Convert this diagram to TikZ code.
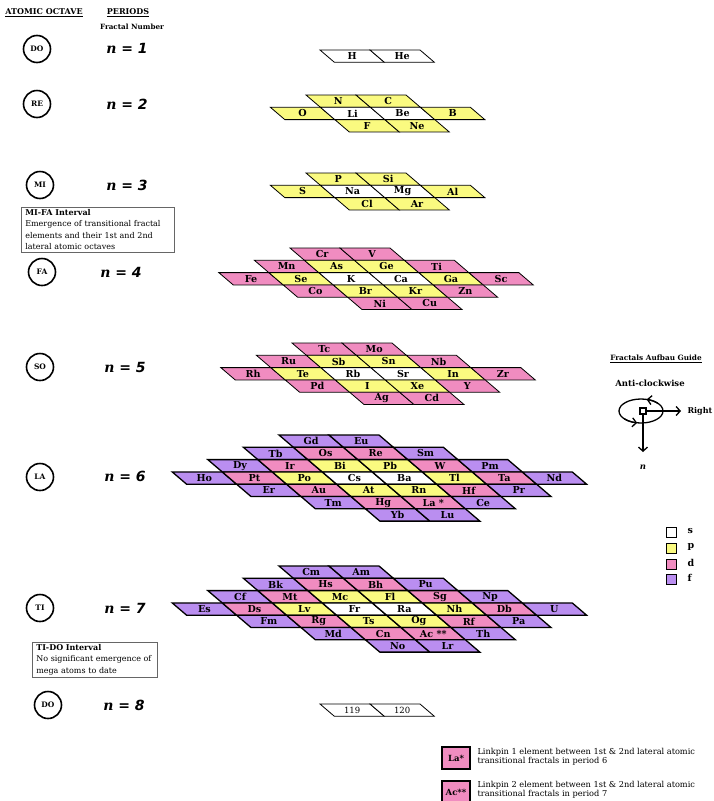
\documentclass[tikz,border=0pt]{standalone}
\usepackage{fontspec}
\setmainfont{DejaVu Serif}
\newfontfamily\nsans{DejaVu Sans}
\usetikzlibrary{arrows.meta}
\definecolor{scol}{RGB}{255,255,255}
\definecolor{pcol}{RGB}{250,250,128}
\definecolor{dcol}{RGB}{240,140,192}
\definecolor{fcol}{RGB}{186,142,240}
\newcommand{\fcell}[5]{%
  \filldraw[#4] (#2,#3) -- ++(1,0) -- ++(0,1) -- ++(-1,0) -- cycle;
  \node (#1) at (#2+0.5,#3+0.5) {#5};}

\begin{document}
\begin{tikzpicture}[x=1pt,y=-1pt,
    sblk/.style={fill=scol},pblk/.style={fill=pcol},
    dblk/.style={fill=dcol},fblk/.style={fill=fcol},
    celgrid/.style={x={(50pt,0pt)},y={(14.4pt,-12.3pt)},line width=0.8pt,
      every node/.style={font=\fontsize{9.6}{10}\selectfont\bfseries,inner sep=0pt}},
    octcircle/.style={circle,draw,line width=1.6pt,minimum size=27pt,inner sep=0pt,
      font=\fontsize{7.5}{8}\selectfont\bfseries},
    periodlbl/.style={font=\fontsize{14}{14}\selectfont\bfseries\itshape},
    headtxt/.style={font=\fontsize{8}{9}\selectfont\bfseries},
    notebox/.style={draw=black!60,line width=0.6pt,align=left,inner xsep=4pt,inner ysep=2pt,
      anchor=north west,font=\fontsize{8}{11.5}\selectfont},
    keybox/.style={draw,line width=0.9pt,minimum size=10pt,inner sep=0pt},
    pinbox/.style={draw,line width=1.5pt,fill=dcol,minimum width=28pt,minimum height=22pt,
      inner sep=0pt,font=\fontsize{8.5}{9}\selectfont\bfseries},
    guidearrow/.style={line width=1.3pt,-{Straight Barb[length=4pt,width=9pt]}}]
        \useasboundingbox (0,0) rectangle (714,801);
        \node[headtxt] (octhead) at (44,13) {\underline{ATOMIC OCTAVE}};
        \node[headtxt] (perhead) at (128,13) {\underline{PERIODS}};
        \node[headtxt,font=\fontsize{7.2}{8}\selectfont\bfseries] (fracnum) at (132,27) {Fractal Number};
        \node[octcircle] (do1) at (37,49) {DO};
        \node[octcircle] (re2) at (37,104) {RE};
        \node[octcircle] (mi3) at (40,185) {MI};
        \node[octcircle] (fa4) at (42,272) {FA};
        \node[octcircle] (so5) at (40,367) {SO};
        \node[octcircle] (la6) at (40,477) {LA};
        \node[octcircle] (ti7) at (40,608) {TI};
        \node[octcircle] (do8) at (48,705) {DO};
        \node[periodlbl] (n1) at (127,48) {n {\nsans= 1}};
        \node[periodlbl] (n2) at (127,104) {n {\nsans= 2}};
        \node[periodlbl] (n3) at (127,185) {n {\nsans= 3}};
        \node[periodlbl] (n4) at (121,272) {n {\nsans= 4}};
        \node[periodlbl] (n5) at (125,367) {n {\nsans= 5}};
        \node[periodlbl] (n6) at (125,476) {n {\nsans= 6}};
        \node[periodlbl] (n7) at (125,608) {n {\nsans= 7}};
        \node[periodlbl] (n8) at (124,705) {n {\nsans= 8}};
        \node[notebox,text width=145pt] (mifa) at (21,207) {\textbf{MI-FA Interval}\\Emergence of transitional fractal\\elements and their 1st and 2nd\\lateral atomic octaves};
        \node[notebox,text width=117pt] (tido) at (32,642) {\textbf{TI-DO Interval}\\No significant emergence of\\mega atoms to date};
        \begin{scope}[shift={(320,50)},celgrid]
          \fcell{H}{0}{0}{sblk}{H}
          \fcell{He}{1}{0}{sblk}{He}
        \end{scope}
        \begin{scope}[shift={(256,95)},celgrid]
          \fcell{N}{1}{0}{pblk}{N}
          \fcell{C}{2}{0}{pblk}{C}
          \fcell{O}{0}{1}{pblk}{O}
          \fcell{Li}{1}{1}{sblk}{Li}
          \fcell{Be}{2}{1}{sblk}{Be}
          \fcell{B}{3}{1}{pblk}{B}
          \fcell{F}{1}{2}{pblk}{F}
          \fcell{Ne}{2}{2}{pblk}{Ne}
        \end{scope}
        \begin{scope}[shift={(256,173)},celgrid]
          \fcell{P}{1}{0}{pblk}{P}
          \fcell{Si}{2}{0}{pblk}{Si}
          \fcell{S}{0}{1}{pblk}{S}
          \fcell{Na}{1}{1}{sblk}{Na}
          \fcell{Mg}{2}{1}{sblk}{Mg}
          \fcell{Al}{3}{1}{pblk}{Al}
          \fcell{Cl}{1}{2}{pblk}{Cl}
          \fcell{Ar}{2}{2}{pblk}{Ar}
        \end{scope}
        \begin{scope}[shift={(190,248)},celgrid]
          \fcell{Cr}{2}{0}{dblk}{Cr}
          \fcell{V}{3}{0}{dblk}{V}
          \fcell{Mn}{1}{1}{dblk}{Mn}
          \fcell{As}{2}{1}{pblk}{As}
          \fcell{Ge}{3}{1}{pblk}{Ge}
          \fcell{Ti}{4}{1}{dblk}{Ti}
          \fcell{Fe}{0}{2}{dblk}{Fe}
          \fcell{Se}{1}{2}{pblk}{Se}
          \fcell{K}{2}{2}{sblk}{K}
          \fcell{Ca}{3}{2}{sblk}{Ca}
          \fcell{Ga}{4}{2}{pblk}{Ga}
          \fcell{Sc}{5}{2}{dblk}{Sc}
          \fcell{Co}{1}{3}{dblk}{Co}
          \fcell{Br}{2}{3}{pblk}{Br}
          \fcell{Kr}{3}{3}{pblk}{Kr}
          \fcell{Zn}{4}{3}{dblk}{Zn}
          \fcell{Ni}{2}{4}{dblk}{Ni}
          \fcell{Cu}{3}{4}{dblk}{Cu}
        \end{scope}
        \begin{scope}[shift={(192,343)},celgrid]
          \fcell{Tc}{2}{0}{dblk}{Tc}
          \fcell{Mo}{3}{0}{dblk}{Mo}
          \fcell{Ru}{1}{1}{dblk}{Ru}
          \fcell{Sb}{2}{1}{pblk}{Sb}
          \fcell{Sn}{3}{1}{pblk}{Sn}
          \fcell{Nb}{4}{1}{dblk}{Nb}
          \fcell{Rh}{0}{2}{dblk}{Rh}
          \fcell{Te}{1}{2}{pblk}{Te}
          \fcell{Rb}{2}{2}{sblk}{Rb}
          \fcell{Sr}{3}{2}{sblk}{Sr}
          \fcell{In}{4}{2}{pblk}{In}
          \fcell{Zr}{5}{2}{dblk}{Zr}
          \fcell{Pd}{1}{3}{dblk}{Pd}
          \fcell{I}{2}{3}{pblk}{I}
          \fcell{Xe}{3}{3}{pblk}{Xe}
          \fcell{Y}{4}{3}{dblk}{Y}
          \fcell{Ag}{2}{4}{dblk}{Ag}
          \fcell{Cd}{3}{4}{dblk}{Cd}
        \end{scope}
        \begin{scope}[shift={(129,435)},celgrid,line width=1.3pt]
          \fcell{Gd}{3}{0}{fblk}{Gd}
          \fcell{Eu}{4}{0}{fblk}{Eu}
          \fcell{Tb}{2}{1}{fblk}{Tb}
          \fcell{Os}{3}{1}{dblk}{Os}
          \fcell{Re}{4}{1}{dblk}{Re}
          \fcell{Sm}{5}{1}{fblk}{Sm}
          \fcell{Dy}{1}{2}{fblk}{Dy}
          \fcell{Ir}{2}{2}{dblk}{Ir}
          \fcell{Bi}{3}{2}{pblk}{Bi}
          \fcell{Pb}{4}{2}{pblk}{Pb}
          \fcell{W}{5}{2}{dblk}{W}
          \fcell{Pm}{6}{2}{fblk}{Pm}
          \fcell{Ho}{0}{3}{fblk}{Ho}
          \fcell{Pt}{1}{3}{dblk}{Pt}
          \fcell{Po}{2}{3}{pblk}{Po}
          \fcell{Cs}{3}{3}{sblk}{Cs}
          \fcell{Ba}{4}{3}{sblk}{Ba}
          \fcell{Tl}{5}{3}{pblk}{Tl}
          \fcell{Ta}{6}{3}{dblk}{Ta}
          \fcell{Nd}{7}{3}{fblk}{Nd}
          \fcell{Er}{1}{4}{fblk}{Er}
          \fcell{Au}{2}{4}{dblk}{Au}
          \fcell{At}{3}{4}{pblk}{At}
          \fcell{Rn}{4}{4}{pblk}{Rn}
          \fcell{Hf}{5}{4}{dblk}{Hf}
          \fcell{Pr}{6}{4}{fblk}{Pr}
          \fcell{Tm}{2}{5}{fblk}{Tm}
          \fcell{Hg}{3}{5}{dblk}{Hg}
          \fcell{La}{4}{5}{dblk}{La *}
          \fcell{Ce}{5}{5}{fblk}{Ce}
          \fcell{Yb}{3}{6}{fblk}{Yb}
          \fcell{Lu}{4}{6}{fblk}{Lu}
        \end{scope}
        \begin{scope}[shift={(129,566)},celgrid,line width=1.3pt]
          \fcell{Cm}{3}{0}{fblk}{Cm}
          \fcell{Am}{4}{0}{fblk}{Am}
          \fcell{Bk}{2}{1}{fblk}{Bk}
          \fcell{Hs}{3}{1}{dblk}{Hs}
          \fcell{Bh}{4}{1}{dblk}{Bh}
          \fcell{Pu}{5}{1}{fblk}{Pu}
          \fcell{Cf}{1}{2}{fblk}{Cf}
          \fcell{Mt}{2}{2}{dblk}{Mt}
          \fcell{Mc}{3}{2}{pblk}{Mc}
          \fcell{Fl}{4}{2}{pblk}{Fl}
          \fcell{Sg}{5}{2}{dblk}{Sg}
          \fcell{Np}{6}{2}{fblk}{Np}
          \fcell{Es}{0}{3}{fblk}{Es}
          \fcell{Ds}{1}{3}{dblk}{Ds}
          \fcell{Lv}{2}{3}{pblk}{Lv}
          \fcell{Fr}{3}{3}{sblk}{Fr}
          \fcell{Ra}{4}{3}{sblk}{Ra}
          \fcell{Nh}{5}{3}{pblk}{Nh}
          \fcell{Db}{6}{3}{dblk}{Db}
          \fcell{U}{7}{3}{fblk}{U}
          \fcell{Fm}{1}{4}{fblk}{Fm}
          \fcell{Rg}{2}{4}{dblk}{Rg}
          \fcell{Ts}{3}{4}{pblk}{Ts}
          \fcell{Og}{4}{4}{pblk}{Og}
          \fcell{Rf}{5}{4}{dblk}{Rf}
          \fcell{Pa}{6}{4}{fblk}{Pa}
          \fcell{Md}{2}{5}{fblk}{Md}
          \fcell{Cn}{3}{5}{dblk}{Cn}
          \fcell{Ac}{4}{5}{dblk}{Ac **}
          \fcell{Th}{5}{5}{fblk}{Th}
          \fcell{No}{3}{6}{fblk}{No}
          \fcell{Lr}{4}{6}{fblk}{Lr}
        \end{scope}
        \begin{scope}[shift={(320,704)},celgrid,every node/.style={font=\fontsize{8.5}{9}\selectfont,inner sep=0pt}]
          \fcell{119}{0}{0}{sblk}{119}
          \fcell{120}{1}{0}{sblk}{120}
        \end{scope}
        \node[headtxt,font=\fontsize{7.3}{8}\selectfont\bfseries] (guidehead) at (656,359) {\underline{Fractals Aufbau Guide}};
        \node[headtxt,font=\fontsize{8.5}{9}\selectfont\bfseries] (anti) at (650,383) {Anti-clockwise};
        \draw[line width=1.3pt] (641,411) ellipse [x radius=22,y radius=12];
        \draw[guidearrow] (641,411) ++(320:22 and 12) arc[start angle=320,end angle=285,x radius=22,y radius=12];
        \draw[guidearrow] (641,411) ++(140:22 and 12) arc[start angle=140,end angle=100,x radius=22,y radius=12];
        \node[draw,line width=1.3pt,fill=white,minimum size=6pt,inner sep=0pt] (sq) at (643,411) {};
        \coordinate (rtip) at (681,411);
        \coordinate (dtip) at (643,452);
        \draw[guidearrow] (sq) -- (rtip);
        \draw[guidearrow] (sq) -- (dtip);
        \node[headtxt,anchor=west] (right) at (684,411) {Right};
        \node[headtxt,font=\fontsize{8.5}{9}\selectfont\bfseries\itshape] (ndir) at (643,467) {n};
        \node[keybox,fill=scol] (ks) at (671,532) {};
        \node[keybox,fill=pcol] (kp) at (671,548) {};
        \node[keybox,fill=dcol] (kd) at (671,564) {};
        \node[keybox,fill=fcol] (kf) at (671,579) {};
        \node[headtxt,anchor=west,font=\fontsize{9.5}{10}\selectfont\bfseries] (ts) at (684,531) {s};
        \node[headtxt,anchor=west,font=\fontsize{9.5}{10}\selectfont\bfseries] (tp) at (684,547) {p};
        \node[headtxt,anchor=west,font=\fontsize{9.5}{10}\selectfont\bfseries] (td) at (684,563) {d};
        \node[headtxt,anchor=west,font=\fontsize{9.5}{10}\selectfont\bfseries] (tf) at (684,578) {f};
        \node[pinbox] (lapin) at (456,758) {La*};
        \node[pinbox] (acpin) at (456,792) {Ac**};
        \node[anchor=west,align=left,font=\fontsize{8.2}{9}\selectfont] (latext) at (474,757) {Linkpin 1 element between 1st \& 2nd lateral atomic\\transitional fractals in period 6};
        \node[anchor=west,align=left,font=\fontsize{8.2}{9}\selectfont] (actext) at (474,790) {Linkpin 2 element between 1st \& 2nd lateral atomic\\transitional fractals in period 7};
\end{tikzpicture}
\end{document}
